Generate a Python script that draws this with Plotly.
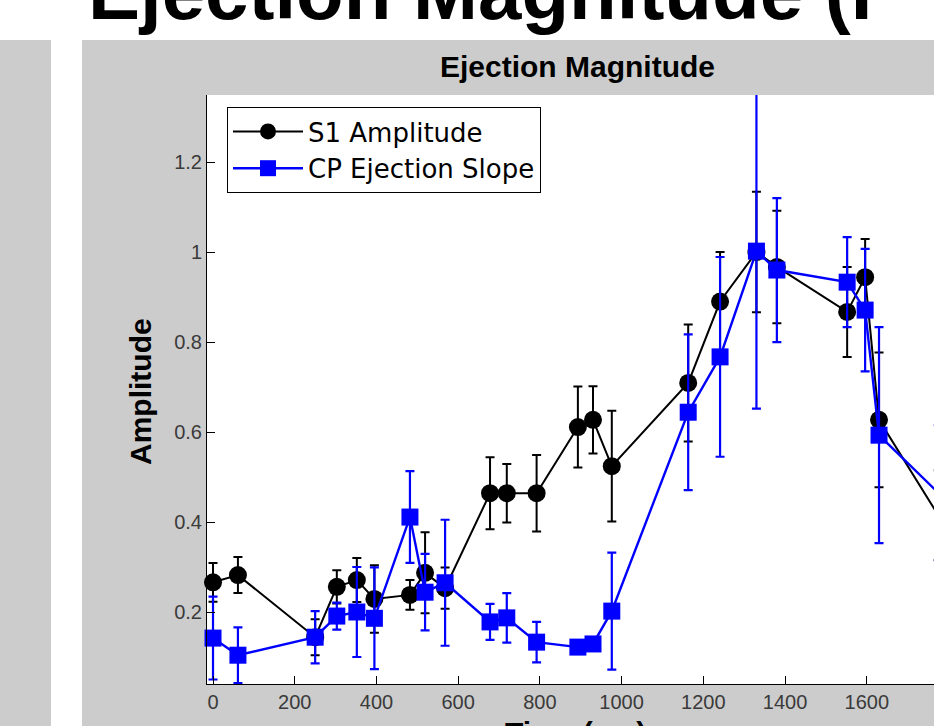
import plotly.graph_objects as go

# ---- data ----
time_ms = [0, 61, 250, 303, 352, 395, 482, 519, 568, 678, 719, 792, 893, 930, 976,
           1163, 1241, 1330, 1380, 1552, 1596, 1630, 1775]
s1_amp = [0.266, 0.282, 0.144, 0.256, 0.271, 0.229, 0.238, 0.287, 0.253, 0.464, 0.464, 0.464,
          0.611, 0.627, 0.524, 0.709, 0.890, 1.000, 0.967, 0.867, 0.944, 0.627, 0.415]
s1_err = [0.043, 0.040, 0.040, 0.037, 0.049, 0.075, 0.033, 0.090, 0.046, 0.080, 0.065, 0.085,
          0.090, 0.075, 0.123, 0.130, 0.110, 0.134, 0.125, 0.100, 0.085, 0.150, 0.10]
cp_slope = [0.142, 0.104, 0.144, 0.191, 0.200, 0.186, 0.411, 0.244, 0.265, 0.178, 0.187, 0.133,
            0.122, 0.129, 0.202, 0.644, 0.767, 1.002, 0.960, 0.933, 0.871, 0.593, 0.465]
cp_err = [0.092, 0.062, 0.058, 0.030, 0.100, 0.113, 0.102, 0.085, 0.140, 0.040, 0.055, 0.045,
          0.010, 0.010, 0.130, 0.173, 0.222, 0.350, 0.160, 0.100, 0.136, 0.240, 0.15]

x_ticks = [0, 200, 400, 600, 800, 1000, 1200, 1400, 1600, 1800]
y_ticks = [0.2, 0.4, 0.6, 0.8, 1.0, 1.2]
y_tick_text = ["0.2", "0.4", "0.6", "0.8", "1", "1.2"]

W, H = 934, 726
L, R, T, B = 207, 0, 95, 42
pw, ph = W - L - R, H - T - B


def px(x):
    return (x - L) / pw


def py(y):
    return (H - B - y) / ph


FONT = "Liberation Sans, Arial, Helvetica, sans-serif"
LFONT = "DejaVu Sans, Liberation Sans, sans-serif"
GRAY = "#cccccc"

fig = go.Figure()
fig.add_trace(go.Scatter(
    x=time_ms, y=s1_amp, name="S1 Amplitude", mode="lines+markers",
    line=dict(color="black", width=2),
    marker=dict(symbol="circle", size=18, color="black"),
    error_y=dict(type="data", array=s1_err, color="black", thickness=2, width=4.5),
    cliponaxis=False,
))
fig.add_trace(go.Scatter(
    x=time_ms, y=cp_slope, name="CP Ejection Slope", mode="lines+markers",
    line=dict(color="#0000ff", width=2.4),
    marker=dict(symbol="square", size=17, color="#0000ff"),
    error_y=dict(type="data", array=cp_err, color="#0000ff", thickness=2.2, width=4.5),
    cliponaxis=False,
))

fig.update_layout(
    width=W, height=H,
    margin=dict(l=L, r=R, t=T, b=B, pad=0),
    paper_bgcolor=GRAY, plot_bgcolor="white",
    font=dict(family=FONT, color="#333333"),
    showlegend=True,
    legend=dict(
        x=px(227), y=py(107), xanchor="left", yanchor="top",
        bgcolor="white", bordercolor="black", borderwidth=1,
        font=dict(size=26, color="black", family=LFONT),
        itemwidth=70, tracegroupgap=0, entrywidth=330,
    ),
    xaxis=dict(
        range=[-14.7, (W - 213) / 0.4086], tickvals=x_ticks,
        ticks="inside", ticklen=8, tickcolor="black", tickwidth=1,
        showline=True, linecolor="black", linewidth=1, mirror=False,
        showgrid=False, zeroline=False,
        tickfont=dict(size=20, color="#3a3a3a", family=FONT),
    ),
    yaxis=dict(
        range=[0.04, 1.349], tickvals=y_ticks, ticktext=y_tick_text,
        ticks="inside", ticklen=8, tickcolor="black", tickwidth=1,
        showline=True, linecolor="black", linewidth=1, mirror=False,
        showgrid=False, zeroline=False,
        tickfont=dict(size=20, color="#3a3a3a", family=FONT),
    ),
    shapes=[
        dict(type="rect", xref="paper", yref="paper", x0=px(-5), x1=px(W + 5),
             y0=py(40), y1=py(-5), fillcolor="white", line=dict(width=0), layer="above"),
        dict(type="rect", xref="paper", yref="paper", x0=px(51), x1=px(82),
             y0=py(H + 5), y1=py(40), fillcolor="white", line=dict(width=0), layer="above"),
    ],
    annotations=[
        dict(text="<b>Ejection Magnitude</b>", xref="paper", yref="paper",
             x=px(577), y=py(66), xanchor="center", yanchor="middle", showarrow=False,
             font=dict(size=30, color="black", family=FONT)),
        dict(text="<b>Amplitude</b>", xref="paper", yref="paper",
             x=px(140), y=py(392), xanchor="center", yanchor="middle", showarrow=False,
             textangle=-90, font=dict(size=30, color="black", family=FONT)),
        dict(text="<b>Time (ms)</b>", xref="paper", yref="paper",
             x=px(575), y=py(714), xanchor="center", yanchor="top", showarrow=False,
             font=dict(size=30, color="black", family=FONT)),
        dict(text="<b>Ejection Magnitude (I</b>", xref="paper", yref="paper",
             x=px(86), y=py(38), xanchor="left", yanchor="bottom", showarrow=False,
             font=dict(size=78, color="black", family=FONT)),
    ],
)

fig.write_html("out.html")
